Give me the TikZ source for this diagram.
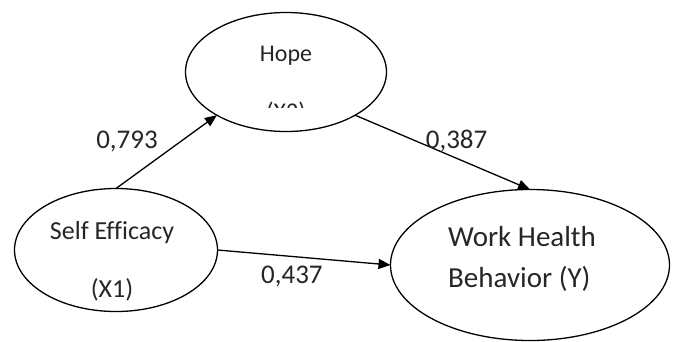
\documentclass[tikz,border=0pt]{standalone}
\usepackage{fontspec}
\setmainfont[Ligatures=NoCommon]{Carlito}
\usetikzlibrary{shapes.geometric,arrows.meta}

\begin{document}
\begin{tikzpicture}[x=1pt,y=-1pt,
	latent/.style={ellipse,draw,line width=1.3pt,inner sep=0pt,outer sep=0pt},
	txt/.style={inner sep=0pt,text=black!85},
	coef/.style={font=\fontsize{27}{27}\selectfont,inner sep=3pt,text=black!85},
	>={Triangle[length=12pt,width=10pt]}]
	\useasboundingbox (0,0) rectangle (675,341);
	% variables
	\node[latent,minimum width=201pt,minimum height=119pt] (hope) at (286,72) {};
	\node[latent,minimum width=203pt,minimum height=123pt] (se) at (116,250) {};
	\node[latent,minimum width=279pt,minimum height=151pt] (wh) at (530,265) {};
	% names
	\node[txt,anchor=base,font=\fontsize{24}{24}\selectfont] (hopename) at (286,61) {Hope};
	\begin{scope}
		\clip (186,0) rectangle (387,107);
		\node[txt,anchor=base,font=\fontsize{24}{24}\selectfont] (hopecode) at (286,119) {(X2)};
	\end{scope}
	\node[txt,anchor=base,font=\fontsize{26}{26}\selectfont] (sename) at (112,239) {Self Efficacy};
	\node[txt,anchor=base,font=\fontsize{26}{26}\selectfont] (secode) at (112,297) {(X1)};
	\node[txt,anchor=base west,font=\fontsize{29}{29}\selectfont] (whname) at (448,246) {Work Health};
	\node[txt,anchor=base west,font=\fontsize{29}{29}\selectfont] (whcode) at (448,287) {Behavior (Y)};
	% paths
	\path[->,line width=1.3pt]
	(se.north) edge node[coef,above left,pos=0.45] {0,793} (hope.212)
	(hope.-32) edge node[coef,above=3pt,pos=0.58] {0,387} (wh.north)
	(se.east) edge node[coef,below=6pt,pos=0.43] {0,437} (wh.west);
\end{tikzpicture}
\end{document}
